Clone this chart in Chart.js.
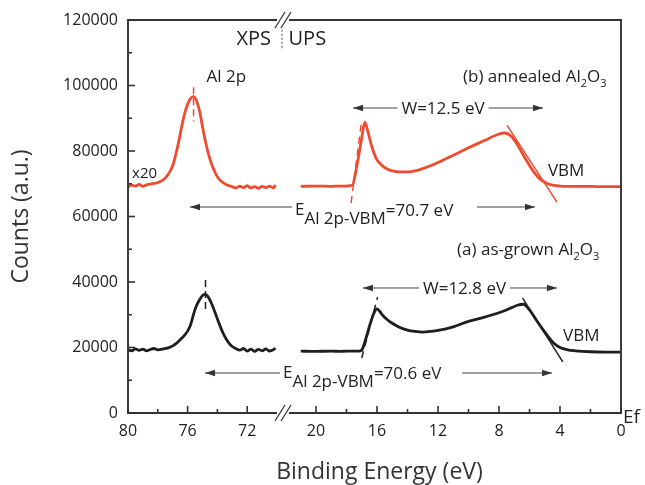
<!DOCTYPE html>
<html>
<head>
<meta charset="utf-8">
<script src="https://cdn.jsdelivr.net/npm/chart.js@4.4.1/dist/chart.umd.min.js"></script>
<style>
  html, body { margin: 0; padding: 0; background: #fff; }
</style>
</head>
<body>
<canvas id="myChart" width="645" height="485"></canvas>
<script>
// XPS window (Al 2p), binding energy in eV
const xpsEnergy = [80, 79.75, 79.5, 79.25, 79, 78.75, 78.5, 78.25, 78, 77.6, 77.3, 77, 76.8, 76.6, 76.4, 76.2, 76, 75.8, 75.6, 75.4, 75.2, 75, 74.8, 74.6, 74.4, 74.2, 74, 73.8, 73.6, 73.4, 73.2, 73, 72.75, 72.5, 72.25, 72, 71.75, 71.5, 71.25, 71, 70.75, 70.5, 70.25, 70.1];
const xpsAnnealed = [69000, 69600, 69300, 69800, 69200, 69700, 69900, 70100, 70400, 71300, 72900, 75500, 78800, 82800, 87400, 91400, 94300, 96100, 96600, 95300, 92200, 87400, 82900, 79100, 76100, 73900, 72100, 71000, 70300, 69700, 69400, 69100, 68700, 69300, 68800, 69400, 68700, 69100, 68600, 69200, 68800, 69300, 68700, 69600];
const xpsAsGrown = [19300, 19000, 19600, 19100, 19500, 19000, 19400, 19700, 19300, 19600, 19900, 20500, 21100, 21900, 22800, 23800, 25000, 26900, 30200, 32800, 34600, 35900, 36200, 35300, 33500, 31200, 28700, 26300, 24200, 22500, 21200, 20300, 19600, 19200, 19700, 18900, 19500, 18800, 19400, 19000, 19600, 18900, 19300, 19800];

// UPS window (valence band)
const upsEnergy = [21, 20, 19, 18.4, 18, 17.8, 17.6, 17.4, 17.2, 17, 16.8, 16.6, 16.4, 16.2, 16, 15.8, 15.6, 15.3, 15, 14.5, 14, 13.5, 13, 12.5, 12, 11, 10, 9, 8, 7.6, 7.2, 6.8, 6.4, 6, 5.6, 5.2, 4.8, 4.4, 4, 3.5, 3, 2, 1, 0];
const upsAnnealed = [69200, 69300, 69200, 69300, 69300, 69400, 69600, 73500, 78500, 84000, 88800, 86000, 82300, 79400, 77300, 76200, 75300, 74400, 73900, 73600, 73600, 73900, 74600, 75500, 76500, 78700, 81000, 83100, 85200, 85500, 84500, 82000, 78700, 75600, 72900, 71000, 70000, 69500, 69300, 69200, 69200, 69200, 69100, 69100];
const upsAsGrown = [18900, 18800, 18900, 18800, 18900, 18900, 18900, 18900, 18900, 19200, 21600, 24800, 27900, 30500, 31800, 30900, 29700, 28400, 27400, 26100, 25300, 24900, 24700, 24900, 25200, 26300, 28000, 29200, 30600, 31300, 32100, 32900, 33200, 31500, 28700, 26000, 23500, 21300, 20000, 19300, 19000, 18700, 18600, 18600];

// guide lines (energy, counts)
const annealedPeakX = [75.6, 75.6];
const annealedPeakY = [99500, 89000];
const asGrownPeakX = [74.8, 74.8];
const asGrownPeakY = [40600, 30500];
const annealedOnsetX = [17.7, 17.0];
const annealedOnsetY = [64100, 89500];
const annealedVbmX = [7.48, 4.2];
const annealedVbmY = [87900, 64400];
const asGrownOnsetX = [17.0, 15.96];
const asGrownOnsetY = [16800, 35400];
const asGrownVbmX = [6.45, 3.82];
const asGrownVbmY = [35100, 15600];

// axis ticks
const xpsTicks = [80, 78, 76, 74, 72];
const upsTicks = [20, 18, 16, 14, 12, 10, 8, 6, 4, 2, 0];
const countTicks = [0, 10000, 20000, 30000, 40000, 50000, 60000, 70000, 80000, 90000, 100000, 110000, 120000];

const RED = "rgb(238, 76, 48)";
const BLACK = "#1e1e1e";
const TEXT = "#222";
const FONT = "'Open Sans'";

function pts(xs, ys) {
  return xs.map((x, i) => ({ x: x, y: ys[i] }));
}

function curve(xs, ys, color, axis) {
  return {
    data: pts(xs, ys),
    xAxisID: axis,
    borderColor: color,
    borderWidth: 2.8,
    pointRadius: 0,
    cubicInterpolationMode: "monotone",
  };
}

function guide(xs, ys, color, axis, dash) {
  return {
    data: pts(xs, ys),
    xAxisID: axis,
    borderColor: color,
    borderWidth: 1.5,
    borderDash: dash || [],
    pointRadius: 0,
  };
}

function textParts(ctx, x, y, parts) {
  let cx = x;
  parts.forEach(([t, size, dy]) => {
    ctx.font = size + "px " + FONT;
    ctx.fillText(t, cx, y + dy);
    cx += ctx.measureText(t).width;
  });
  return cx;
}

function arrow(ctx, x1, y, x2) {
  ctx.beginPath();
  ctx.moveTo(x1, y);
  ctx.lineTo(x2, y);
  ctx.stroke();
  const d = Math.sign(x2 - x1);
  ctx.beginPath();
  ctx.moveTo(x2, y);
  ctx.lineTo(x2 - d * 10, y - 3.2);
  ctx.lineTo(x2 - d * 10, y + 3.2);
  ctx.closePath();
  ctx.fill();
}

const energyFrame = {
  id: "energyFrame",
  afterDatasetsDraw(chart) {
    const { ctx, chartArea: a, scales } = chart;
    const xX = scales.xXps, xU = scales.xUps, y = scales.y;
    const brk = xX.right + 3;
    const XX = (e) => xX.getPixelForValue(e);
    const XU = (e) => xU.getPixelForValue(e);
    const Y = (c) => y.getPixelForValue(c);

    ctx.save();
    // frame with axis break
    ctx.strokeStyle = "#333";
    ctx.lineWidth = 1.9;
    ctx.beginPath();
    ctx.moveTo(brk - 6, a.top);
    ctx.lineTo(a.left, a.top);
    ctx.lineTo(a.left, a.bottom);
    ctx.lineTo(brk - 6, a.bottom);
    ctx.moveTo(brk + 6, a.top);
    ctx.lineTo(a.right, a.top);
    ctx.lineTo(a.right, a.bottom);
    ctx.lineTo(brk + 6, a.bottom);
    ctx.stroke();
    ctx.lineWidth = 1.3;
    [a.top, a.bottom].forEach((yy) => {
      [-3, 3].forEach((dx) => {
        ctx.beginPath();
        ctx.moveTo(brk + dx - 5, yy + 8);
        ctx.lineTo(brk + dx + 5, yy - 8);
        ctx.stroke();
      });
    });

    // inward tick marks
    ctx.lineWidth = 1.6;
    [xX, xU].forEach((s) => {
      s.ticks.forEach((t) => {
        const p = s.getPixelForValue(t.value);
        const len = t.value % 4 === 0 ? 7 : 4;
        ctx.beginPath();
        ctx.moveTo(p, a.bottom);
        ctx.lineTo(p, a.bottom - len);
        ctx.stroke();
      });
    });
    y.ticks.forEach((t) => {
      const p = y.getPixelForValue(t.value);
      const len = t.value % 20000 === 0 ? 7 : 4;
      ctx.beginPath();
      ctx.moveTo(a.left, p);
      ctx.lineTo(a.left + len, p);
      ctx.stroke();
    });

    // XPS / UPS labels and separator
    ctx.fillStyle = TEXT;
    ctx.textBaseline = "alphabetic";
    ctx.font = "20px " + FONT;
    ctx.textAlign = "right";
    ctx.fillText("XPS", XX(70.4), Y(112400));
    ctx.textAlign = "left";
    ctx.fillText("UPS", XU(21.8), Y(112400));
    ctx.strokeStyle = "#555";
    ctx.lineWidth = 1;
    ctx.setLineDash([2, 2]);
    ctx.beginPath();
    ctx.moveTo(brk - 1, Y(117000));
    ctx.lineTo(brk - 1, Y(110800));
    ctx.stroke();
    ctx.setLineDash([]);

    ctx.textAlign = "center";
    ctx.font = "17px " + FONT;
    ctx.fillText("Al 2p", XX(73.4), Y(101100));
    ctx.textAlign = "left";
    ctx.font = "15px " + FONT;
    ctx.fillText("x20", XX(79.73), Y(71750));

    // sample labels
    textParts(ctx, XU(10.36), Y(101100), [["(b) annealed Al", 17, 0], ["2", 11, 5], ["O", 17, 0], ["3", 11, 5]]);
    textParts(ctx, XU(10.75), Y(48240), [["(a) as-grown Al", 17, 0], ["2", 11, 5], ["O", 17, 0], ["3", 11, 5]]);
    ctx.font = "17px " + FONT;
    ctx.fillText("VBM", XU(4.79), Y(72370));
    ctx.fillText("VBM", XU(3.8), Y(21980));

    // width arrows
    ctx.strokeStyle = "#444";
    ctx.fillStyle = "#333";
    ctx.lineWidth = 1;
    const widthLabel = (txt, eL, eR, eMid, c) => {
      const yy = Y(c);
      ctx.font = "17px " + FONT;
      const w = ctx.measureText(txt).width;
      const cx = XU(eMid);
      arrow(ctx, cx - w / 2 - 4, yy, XU(eL));
      arrow(ctx, cx + w / 2 + 4, yy, XU(eR));
      ctx.fillStyle = TEXT;
      ctx.textAlign = "center";
      ctx.fillText(txt, cx, yy + 6);
      ctx.textAlign = "left";
      ctx.fillStyle = "#333";
    };
    widthLabel("W=12.5 eV", 17.57, 5.11, 11.67, 93130);
    widthLabel("W=12.8 eV", 16.92, 4.2, 10.26, 38170);

    // core level to VBM separation
    const sepLabel = (value, leftHead, textLeft, rEnd, rHead, c, dyText) => {
      const yy = Y(c);
      arrow(ctx, textLeft - 3, yy, leftHead);
      arrow(ctx, rEnd, yy, rHead);
      ctx.fillStyle = TEXT;
      textParts(ctx, textLeft, yy + dyText, [["E", 17, 0], ["Al 2p-VBM", 17, 9], ["=" + value + " eV", 17, 1]]);
      ctx.fillStyle = "#333";
    };
    sepLabel("70.7", XX(75.84), XU(21.38), XU(9.44), XU(5.64), 62900, 8);
    sepLabel("70.6", XX(74.83), brk, XU(10.43), XU(4.52), 12210, 5);

    // Ef and x axis title
    ctx.fillStyle = TEXT;
    ctx.font = "19px " + FONT;
    ctx.fillText("Ef", a.right + 2, a.bottom + 10);
    ctx.textAlign = "center";
    ctx.font = "23px " + FONT;
    ctx.fillStyle = "#333";
    ctx.fillText("Binding Energy (eV)", (a.left + a.right) / 2 + 5, 479);
    ctx.restore();
  },
};

const ctx = document.getElementById("myChart").getContext("2d");
const myChart = new Chart(ctx, {
  type: "line",
  data: {
    datasets: [
      curve(xpsEnergy, xpsAnnealed, RED, "xXps"),
      curve(xpsEnergy, xpsAsGrown, BLACK, "xXps"),
      curve(upsEnergy, upsAnnealed, RED, "xUps"),
      curve(upsEnergy, upsAsGrown, BLACK, "xUps"),
      guide(annealedPeakX, annealedPeakY, RED, "xXps", [7, 4]),
      guide(asGrownPeakX, asGrownPeakY, BLACK, "xXps", [7, 4]),
      guide(annealedOnsetX, annealedOnsetY, RED, "xUps", [7, 5]),
      guide(annealedVbmX, annealedVbmY, RED, "xUps"),
      guide(asGrownOnsetX, asGrownOnsetY, BLACK, "xUps", [7, 5]),
      guide(asGrownVbmX, asGrownVbmY, BLACK, "xUps"),
    ],
  },
  options: {
    responsive: false,
    animation: false,
    layout: { padding: { top: 20, right: 24, left: 0, bottom: 0 } },
    plugins: { legend: { display: false }, tooltip: { enabled: false } },
    scales: {
      xXps: {
        type: "linear",
        position: "bottom",
        stack: "energy",
        stackWeight: 152,
        min: 69.8,
        max: 80,
        reverse: true,
        grid: { display: false, drawTicks: false },
        border: { display: false },
        afterBuildTicks: (s) => { s.ticks = xpsTicks.map((v) => ({ value: v })); },
        afterFit: (s) => { s.height = 72; },
        ticks: {
          autoSkip: false,
          maxRotation: 0,
          padding: 9,
          color: TEXT,
          font: { family: "Open Sans", size: 16 },
          callback: (v) => (v % 4 === 0 ? String(v) : ""),
        },
      },
      xUps: {
        type: "linear",
        position: "bottom",
        stack: "energy",
        stackWeight: 341,
        min: 0,
        max: 22.36,
        reverse: true,
        grid: { display: false, drawTicks: false },
        border: { display: false },
        afterBuildTicks: (s) => { s.ticks = upsTicks.map((v) => ({ value: v })); },
        afterFit: (s) => { s.height = 72; },
        ticks: {
          autoSkip: false,
          maxRotation: 0,
          padding: 9,
          color: TEXT,
          font: { family: "Open Sans", size: 16 },
          callback: (v) => (v % 4 === 0 ? String(v) : ""),
        },
      },
      y: {
        type: "linear",
        min: 0,
        max: 120000,
        grid: { display: false, drawTicks: false },
        border: { display: false },
        afterBuildTicks: (s) => { s.ticks = countTicks.map((v) => ({ value: v })); },
        afterFit: (s) => { s.width = 128; },
        title: {
          display: true,
          text: "Counts (a.u.)",
          color: "#333",
          font: { family: "Open Sans", size: 23 },
          padding: { top: 8, bottom: 0 },
        },
        ticks: {
          autoSkip: false,
          padding: 10,
          color: TEXT,
          font: { family: "Open Sans", size: 16 },
          callback: (v) => (v % 20000 === 0 ? String(v) : ""),
        },
      },
    },
  },
  plugins: [energyFrame],
});
</script>
</body>
</html>
